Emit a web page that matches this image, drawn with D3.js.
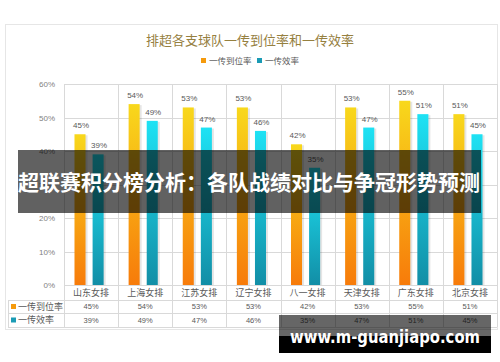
<!DOCTYPE html>
<html>
<head>
<meta charset="utf-8">
<script src="https://cdn.jsdelivr.net/npm/d3@7"></script>
<style>
  body { margin: 0; background: #fff; }
  svg { display: block; font-family: "Noto Sans CJK SC", "Noto Sans", sans-serif; }
</style>
</head>
<body>
<div id="chart"></div>
<script>
// data
var teams = ["山东女排", "上海女排", "江苏女排", "辽宁女排", "八一女排", "天津女排", "广东女排", "北京女排"];
var seriesNames = ["一传到位率", "一传效率"];
var passRate = [45, 54, 53, 53, 42, 53, 55, 51];
var passEff = [39, 49, 47, 46, 35, 47, 51, 45];
var yTicks = [0, 10, 20, 30, 40, 50, 60];

var seriesValues = [passRate, passEff];
var keyColors = ["#f59a0c", "#1a9bb5"];

var W = 500, H = 362;
var svg = d3.select("#chart").append("svg")
    .attr("width", W)
    .attr("height", H);

// gradients for the bars
var defs = svg.append("defs");
var grads = [["g0", "#f8d81c", "#f77b0a"], ["g1", "#1ee2f4", "#128ea6"]];
grads.forEach(function(g) {
  var lg = defs.append("linearGradient").attr("id", g[0])
      .attr("x1", 0).attr("y1", 0).attr("x2", 0).attr("y2", 1);
  lg.append("stop").attr("offset", "0%").attr("stop-color", g[1]);
  lg.append("stop").attr("offset", "100%").attr("stop-color", g[2]);
});

// outer frame
svg.append("rect")
    .attr("x", 5.5).attr("y", 24.5).attr("width", 492).attr("height", 305)
    .attr("fill", "#fff").attr("stroke", "#e6e6e6");

// title
svg.append("text")
    .attr("x", 250).attr("y", 45)
    .attr("text-anchor", "middle")
    .style("font-size", "13px")
    .style("fill", "#96803f")
    .text("排超各支球队一传到位率和一传效率");

// legend
var legend = svg.append("g").attr("transform", "translate(201,61)");
var legendX = [0, 56];
seriesNames.forEach(function(name, i) {
  legend.append("rect")
      .attr("x", legendX[i]).attr("y", -3)
      .attr("width", 5).attr("height", 5)
      .attr("fill", keyColors[i]);
  legend.append("text")
      .attr("x", legendX[i] + 8).attr("y", 0)
      .attr("dy", "0.35em")
      .style("font-size", "8.5px")
      .style("fill", "#595959")
      .text(name);
});

// scales
var plotLeft = 64, plotRight = 497;
var x = d3.scaleBand()
    .domain(teams)
    .range([plotLeft, plotRight]);
var x1 = d3.scaleBand()
    .domain(seriesNames)
    .range([0, x.bandwidth()])
    .paddingInner(0.39)
    .paddingOuter(0.69)
    .align(0.42);
var y = d3.scaleLinear()
    .domain([0, 60])
    .range([285, 84]);

// horizontal grid
svg.append("g").selectAll("line")
  .data(yTicks)
  .enter().append("line")
    .attr("x1", plotLeft).attr("x2", plotRight)
    .attr("y1", function(d) { return Math.round(y(d)) + 0.5; })
    .attr("y2", function(d) { return Math.round(y(d)) + 0.5; })
    .attr("stroke", "#d9d9d9");

// y axis labels
var yAxis = svg.append("g")
    .attr("transform", "translate(" + (plotLeft - 6) + ",0)")
    .call(d3.axisLeft(y).tickValues(yTicks).tickSize(0)
      .tickFormat(function(d) { return d + "%"; }));
yAxis.select(".domain").remove();
yAxis.selectAll("text")
    .style("font-size", "8px")
    .style("fill", "#7f7f7f")
    .style("font-family", "'Liberation Sans', Arial, sans-serif");

// table rows
var rowLines = [300, 313, 327];
var tableLeft = 8;
var bounds = teams.map(function(t) { return x(t); }).concat([plotRight]);

svg.append("g").selectAll("line")
  .data(bounds)
  .enter().append("line")
    .attr("x1", function(d) { return Math.round(d) + 0.5; })
    .attr("x2", function(d) { return Math.round(d) + 0.5; })
    .attr("y1", 84).attr("y2", 327)
    .attr("stroke", "#d9d9d9");

svg.append("g").selectAll("line")
  .data(rowLines)
  .enter().append("line")
    .attr("x1", tableLeft).attr("x2", plotRight)
    .attr("y1", function(d) { return d + 0.5; })
    .attr("y2", function(d) { return d + 0.5; })
    .attr("stroke", "#d9d9d9");

svg.append("line")
    .attr("x1", tableLeft + 0.5).attr("x2", tableLeft + 0.5)
    .attr("y1", 300).attr("y2", 327)
    .attr("stroke", "#d9d9d9");

// category labels
svg.append("g").selectAll("text")
  .data(teams)
  .enter().append("text")
    .attr("x", function(d) { return x(d) + x.bandwidth() / 2; })
    .attr("y", 293)
    .attr("dy", "0.35em")
    .attr("text-anchor", "middle")
    .style("font-size", "9px")
    .style("fill", "#595959")
    .text(function(d) { return d; });

// table legend + values
seriesNames.forEach(function(name, i) {
  var cy = (rowLines[i] + rowLines[i + 1]) / 2;
  svg.append("rect")
      .attr("x", 11).attr("y", cy - 2.5)
      .attr("width", 5).attr("height", 5)
      .attr("fill", keyColors[i]);
  svg.append("text")
      .attr("x", 18).attr("y", cy)
      .attr("dy", "0.35em")
      .style("font-size", "9px")
      .style("fill", "#595959")
      .text(name);
  svg.append("g").selectAll("text")
    .data(seriesValues[i])
    .enter().append("text")
      .attr("x", function(d, j) { return x(teams[j]) + x.bandwidth() / 2; })
      .attr("y", cy)
      .attr("dy", "0.35em")
      .attr("text-anchor", "middle")
      .style("font-size", "7.5px")
      .style("fill", "#595959")
      .style("font-family", "'Liberation Sans', Arial, sans-serif")
      .text(function(d) { return d + "%"; });
});

// bars
seriesNames.forEach(function(name, i) {
  var g = svg.append("g");
  var vals = seriesValues[i];
  // soft shadow
  g.selectAll("rect.shadow")
    .data(vals)
    .enter().append("rect")
      .attr("class", "shadow")
      .attr("x", function(d, j) { return x(teams[j]) + x1(name) + 2; })
      .attr("y", function(d) { return y(d) + 1; })
      .attr("width", x1.bandwidth())
      .attr("height", function(d) { return y(0) - y(d) - 1; })
      .attr("fill", "#000").attr("opacity", 0.1);
  g.selectAll("rect.bar")
    .data(vals)
    .enter().append("rect")
      .attr("class", "bar")
      .attr("x", function(d, j) { return x(teams[j]) + x1(name); })
      .attr("y", function(d) { return y(d); })
      .attr("width", x1.bandwidth())
      .attr("height", function(d) { return y(0) - y(d); })
      .attr("fill", "url(#g" + i + ")");
  g.selectAll("text")
    .data(vals)
    .enter().append("text")
      .attr("x", function(d, j) { return x(teams[j]) + x1(name) + x1.bandwidth() / 2 + 1; })
      .attr("y", function(d) { return y(d) - 6; })
      .attr("text-anchor", "middle")
      .style("font-size", "8px")
      .style("fill", "#595959")
      .style("font-family", "'Liberation Sans', Arial, sans-serif")
      .text(function(d) { return d + "%"; });
});

// overlay banner
svg.append("rect")
    .attr("x", 18).attr("y", 150).attr("width", 463).attr("height", 63)
    .attr("fill", "#000").attr("opacity", 0.62);
svg.append("text")
    .attr("x", 249).attr("y", 182)
    .attr("dy", "0.36em")
    .attr("text-anchor", "middle")
    .style("font-size", "21px")
    .style("font-weight", "bold")
    .style("fill", "#fff")
    .text("超联赛积分榜分析：各队战绩对比与争冠形势预测");

// watermark
svg.append("rect")
    .attr("x", 279).attr("y", 315).attr("width", 212).attr("height", 21)
    .attr("fill", "#000").attr("opacity", 0.6);
svg.append("rect")
    .attr("x", 279).attr("y", 336).attr("width", 212).attr("height", 17)
    .attr("fill", "#000");
svg.append("text")
    .attr("x", 385).attr("y", 337)
    .attr("dy", "0.35em")
    .attr("text-anchor", "middle")
    .attr("textLength", 190)
    .attr("lengthAdjust", "spacingAndGlyphs")
    .style("font-size", "18px")
    .style("font-weight", "bold")
    .style("fill", "#fff")
    .style("font-family", "'DejaVu Sans', sans-serif")
    .text("www.m-guanjiapo.com");
</script>
</body>
</html>
